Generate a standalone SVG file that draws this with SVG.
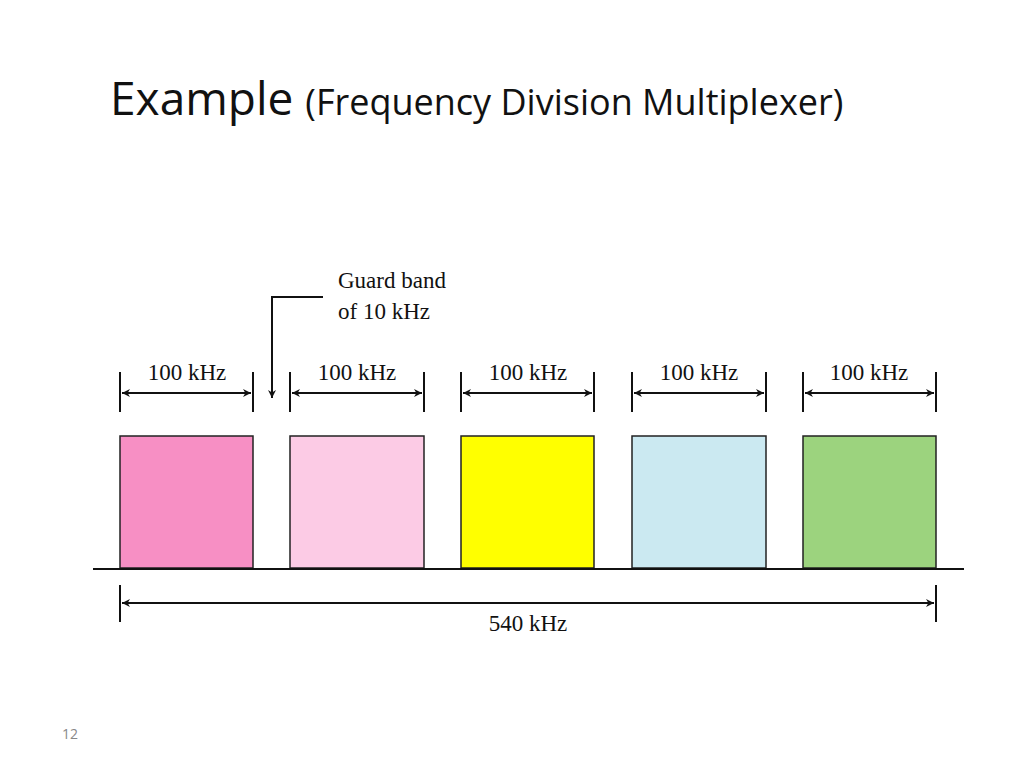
<svg xmlns="http://www.w3.org/2000/svg" width="1024" height="768" viewBox="0 0 1024 768">
<style>
.t{font-family:"Liberation Serif",serif;font-size:23px;fill:#111}
.l{stroke:#111;stroke-width:2;fill:none}
.b{stroke:#222;stroke-width:1.5}
</style>
<defs>
<marker id="a" viewBox="0 0 10 10" refX="10" refY="5" markerWidth="10" markerHeight="8" orient="auto-start-reverse" markerUnits="userSpaceOnUse"><path d="M0,0 L10,5 L0,10 L3,5 Z" fill="#111"/></marker>
</defs>
<rect width="1024" height="768" fill="#fff"/>
<text x="110" y="115" font-family="Open Sans,sans-serif" font-size="46" fill="#111">Example <tspan font-size="36">(Frequency Division Multiplexer)</tspan></text>
<g id="boxes">
<rect id="b1" class="b" x="120" y="436" width="133" height="132" fill="#f78fc4"/>
<rect id="b2" class="b" x="290" y="436" width="134" height="132" fill="#fccbe5"/>
<rect id="b3" class="b" x="461" y="436" width="133" height="132" fill="#ffff00"/>
<rect id="b4" class="b" x="632" y="436" width="134" height="132" fill="#cbe9f1"/>
<rect id="b5" class="b" x="803" y="436" width="133" height="132" fill="#9cd37e"/>
</g>
<g id="connectors">
<line class="l" x1="93" y1="569" x2="964" y2="569"/>
<path class="l" d="M120,372V412M253,372V412M290,372V412M424,372V412M461,372V412M594,372V412M632,372V412M766,372V412M803,372V412M936,372V412"/>
<line class="l" x1="122" y1="393" x2="251" y2="393" marker-start="url(#a)" marker-end="url(#a)"/>
<line class="l" x1="292" y1="393" x2="422" y2="393" marker-start="url(#a)" marker-end="url(#a)"/>
<line class="l" x1="463" y1="393" x2="592" y2="393" marker-start="url(#a)" marker-end="url(#a)"/>
<line class="l" x1="634" y1="393" x2="764" y2="393" marker-start="url(#a)" marker-end="url(#a)"/>
<line class="l" x1="805" y1="393" x2="934" y2="393" marker-start="url(#a)" marker-end="url(#a)"/>
<path class="l" d="M323,297H272V398" marker-end="url(#a)"/>
<path class="l" d="M120,585V622M936,585V622"/>
<line class="l" x1="122" y1="603" x2="934" y2="603" marker-start="url(#a)" marker-end="url(#a)"/>
</g>
<g id="labels">
<text class="t" x="338" y="288">Guard band</text>
<text class="t" x="338" y="319">of 10 kHz</text>
<text class="t" x="187" y="380" text-anchor="middle">100 kHz</text>
<text class="t" x="357" y="380" text-anchor="middle">100 kHz</text>
<text class="t" x="528" y="380" text-anchor="middle">100 kHz</text>
<text class="t" x="699" y="380" text-anchor="middle">100 kHz</text>
<text class="t" x="869" y="380" text-anchor="middle">100 kHz</text>
<text class="t" x="528" y="631" text-anchor="middle">540 kHz</text>
<text x="62" y="739" font-family="Open Sans,sans-serif" font-size="14" fill="#888">12</text>
</g>
</svg>
